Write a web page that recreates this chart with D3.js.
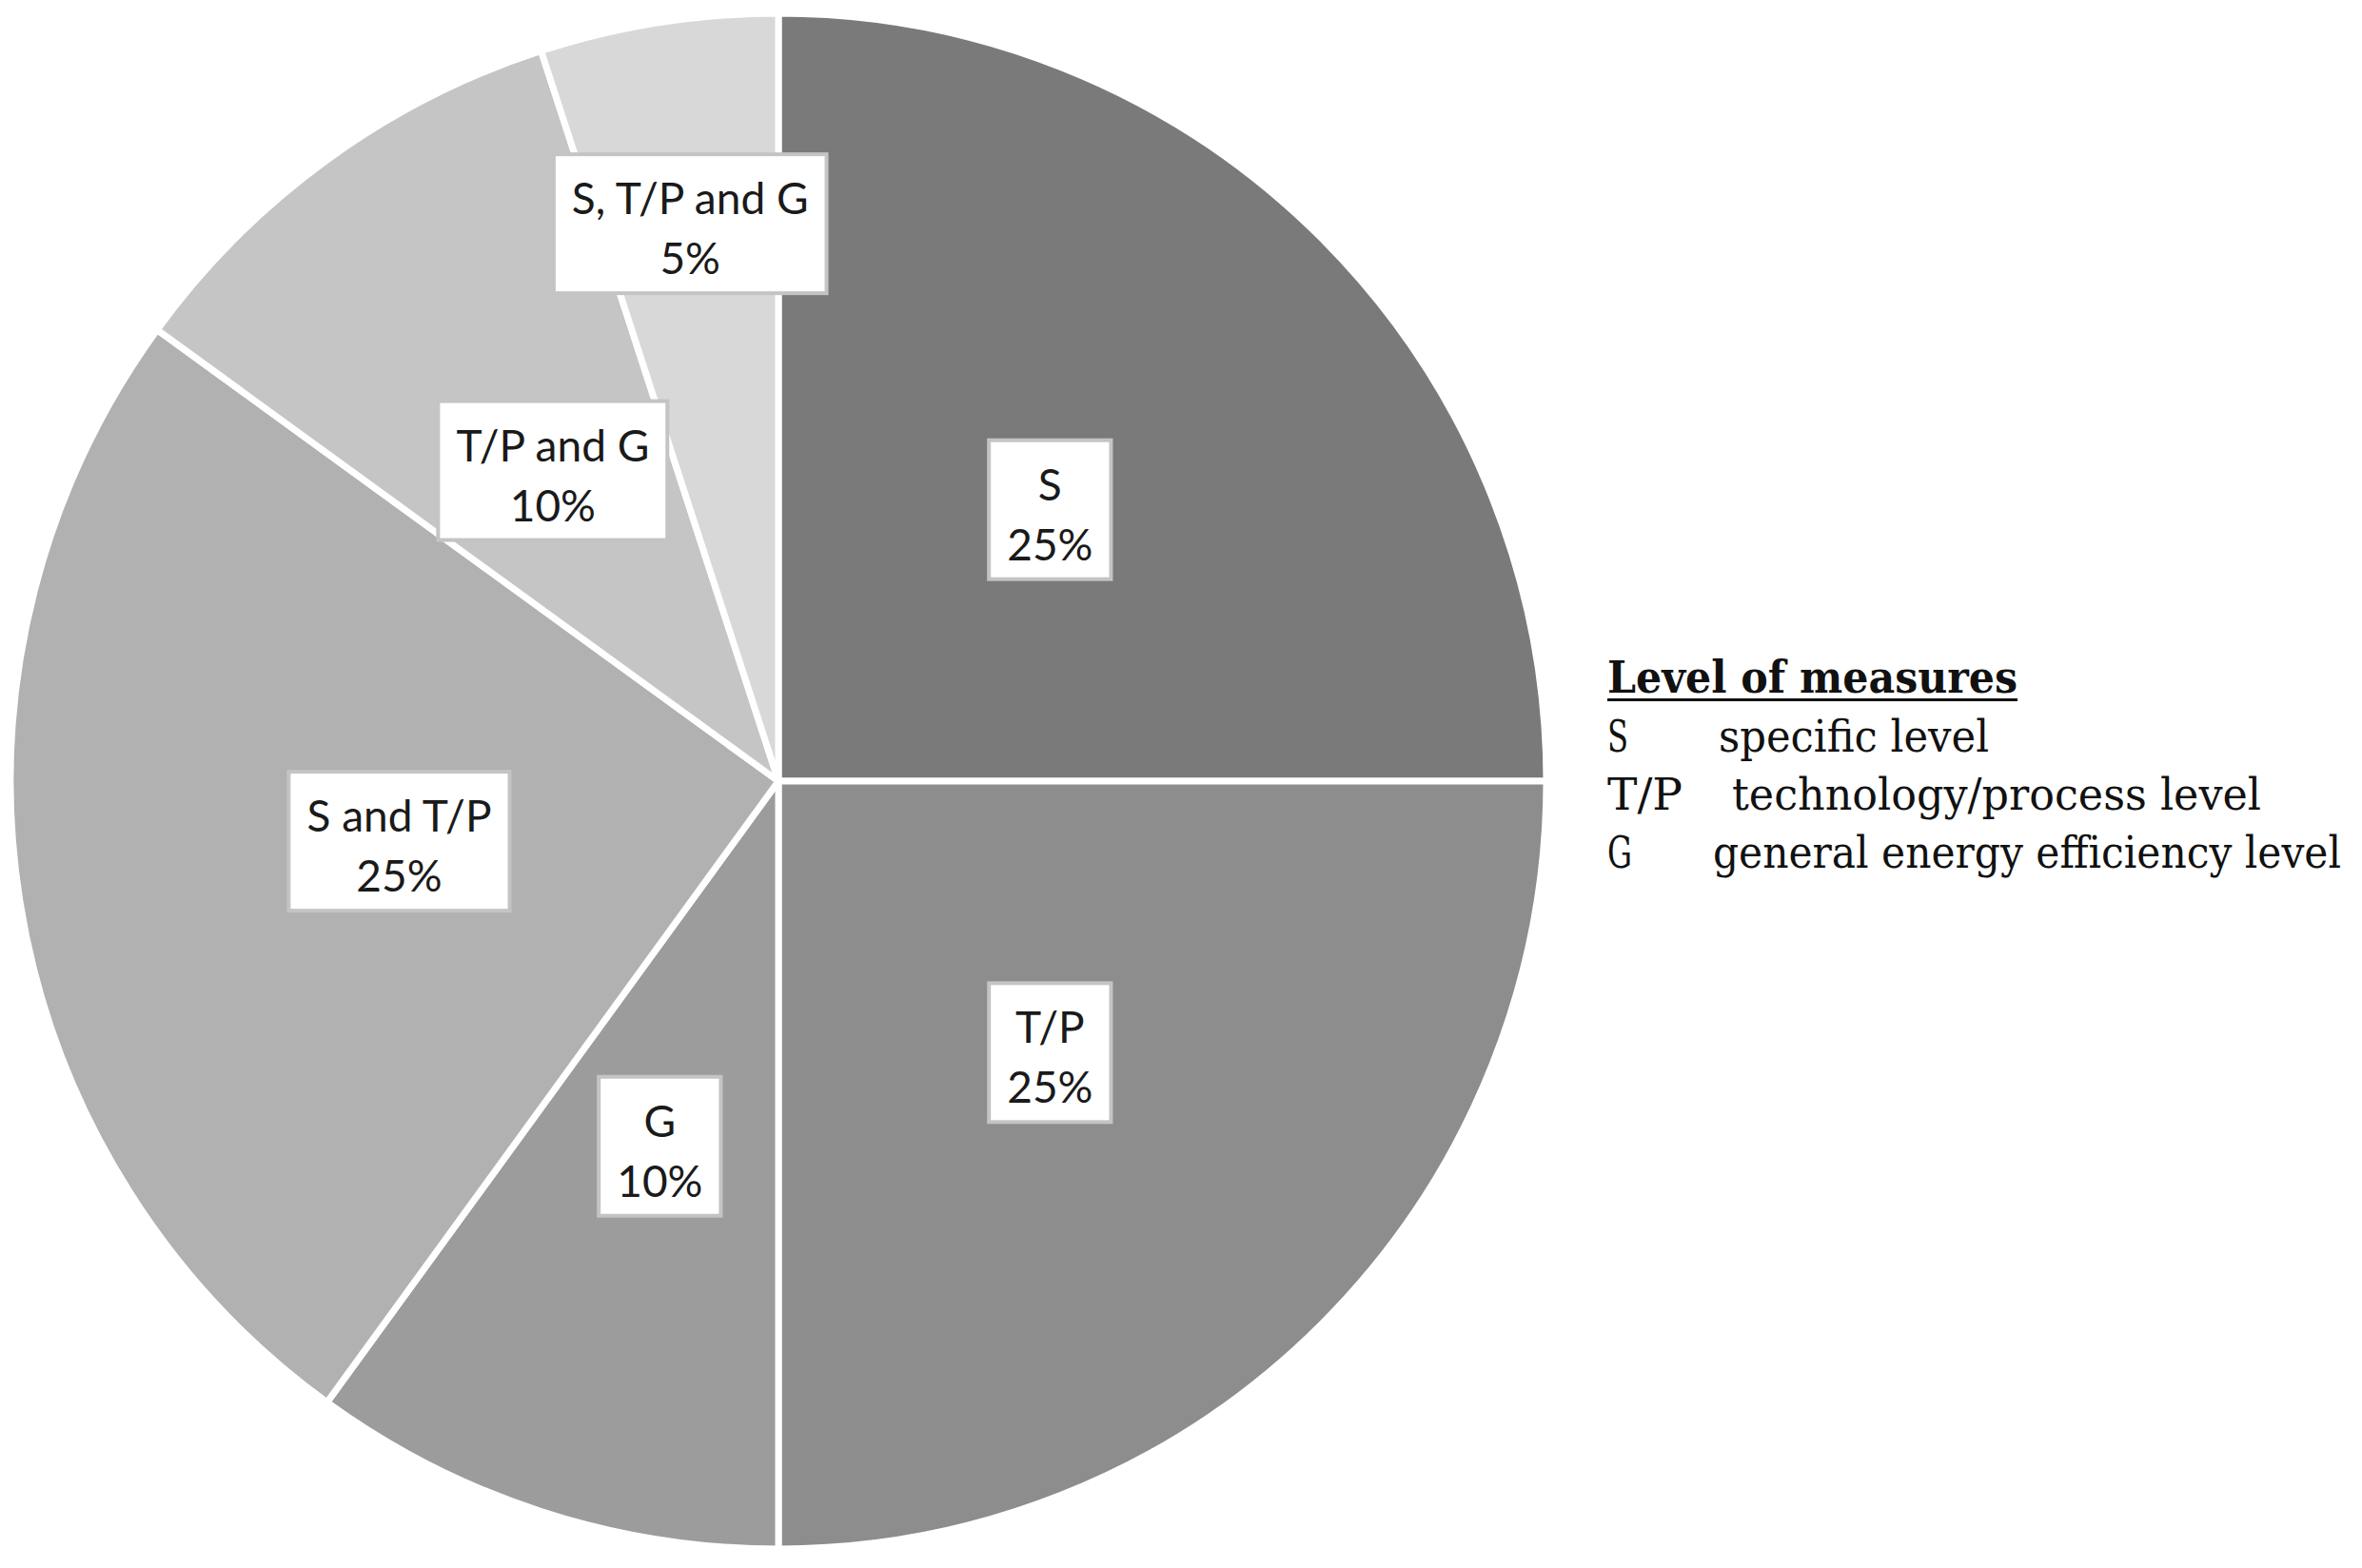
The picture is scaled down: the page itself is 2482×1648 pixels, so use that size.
<!DOCTYPE html>
<html>
<head>
<meta charset="utf-8">
<script src="https://cdn.jsdelivr.net/npm/d3@7"></script>
<style>
  body { margin: 0; background: #fff; }
</style>
</head>
<body>
<div id="chart"></div>
<script>
// slice data, clockwise from 12 o'clock
const categories = ['S', 'T/P', 'G', 'S and T/P', 'T/P and G', 'S, T/P and G'];
const shares = [25, 25, 10, 25, 10, 5];
const greys = ['#7a7a7a', '#8d8d8d', '#9c9c9c', '#b1b1b1', '#c5c5c5', '#d8d8d8'];

// legend
const legendTitle = 'Level of measures';
const legendKeys = ['S', 'T/P', 'G'];
const legendTexts = ['specific level', 'technology/process level', 'general energy efficiency level'];

const width = 2482;
const height = 1648;
const cx = 818, cy = 821;
const radius = 807;

const svg = d3.select('#chart')
    .append('svg')
    .attr('width', width)
    .attr('height', height);

const g = svg.append('g')
    .attr('transform', `translate(${cx},${cy})`);

const color = d3.scaleOrdinal().domain(categories).range(greys);

const pie = d3.pie().sort(null).value(d => d.value);
const arc = d3.arc().innerRadius(0).outerRadius(radius);

const pieData = pie(categories.map((c, i) => ({ name: c, value: shares[i] })));

g.selectAll('.slice')
    .data(pieData)
    .enter()
    .append('path')
    .attr('class', 'slice')
    .attr('d', arc)
    .attr('fill', d => color(d.data.name))
    .attr('stroke', '#fff')
    .attr('stroke-width', 7)
    .attr('stroke-linejoin', 'round');

// data labels: white boxes, small slice pushed outwards
const labelArc = d3.arc().innerRadius(radius * 0.5).outerRadius(radius * 0.5);
const outerLabelArc = d3.arc().innerRadius(radius * 0.735).outerRadius(radius * 0.735);

const labels = g.selectAll('.lbl')
    .data(pieData)
    .enter()
    .append('g')
    .attr('class', 'lbl')
    .attr('transform', d => {
        const p = d.data.value < 8 ? outerLabelArc.centroid(d) : labelArc.centroid(d);
        return `translate(${p})`;
    });

labels.append('rect')
    .attr('fill', '#fff')
    .attr('stroke', '#c4c4c4')
    .attr('stroke-width', 4);

const txt = labels.append('text')
    .attr('text-anchor', 'middle')
    .style('font-family', 'Lato, "Open Sans", sans-serif')
    .style('font-size', '46px')
    .attr('fill', '#1a1a1a');

txt.append('tspan').attr('x', 0).attr('y', -10).text(d => d.data.name);
txt.append('tspan').attr('x', 0).attr('y', 53).text(d => d.data.value + '%');

txt.each(function () {
    const w = this.getBBox().width;
    d3.select(this.parentNode).select('rect')
        .attr('x', -w / 2 - 19)
        .attr('y', -73)
        .attr('width', w + 38)
        .attr('height', 146);
});

// legend
const legend = svg.append('g')
    .attr('transform', 'translate(1689,728)')
    .style('font-family', '"DejaVu Serif", "Liberation Serif", serif')
    .attr('fill', '#111');

legend.append('text')
    .attr('x', 0).attr('y', 0)
    .style('font-size', '46px')
    .style('font-weight', 'bold')
    .attr('textLength', 431)
    .attr('lengthAdjust', 'spacingAndGlyphs')
    .text(legendTitle);

legend.append('rect')
    .attr('x', 0).attr('y', 6)
    .attr('width', 431).attr('height', 3)
    .attr('fill', '#111');

const textX = [117, 131, 111];
const textW = [284, 556, 660];
const keyW = [22, 79, 26];

legendKeys.forEach((k, i) => {
    const y = 62 + i * 61;
    legend.append('text')
        .attr('x', 0).attr('y', y)
        .style('font-size', '46px')
        .attr('textLength', keyW[i])
        .attr('lengthAdjust', 'spacingAndGlyphs')
        .text(k);
    legend.append('text')
        .attr('x', textX[i]).attr('y', y)
        .style('font-size', '46px')
        .attr('textLength', textW[i])
        .attr('lengthAdjust', 'spacingAndGlyphs')
        .text(legendTexts[i]);
});
</script>
</body>
</html>
